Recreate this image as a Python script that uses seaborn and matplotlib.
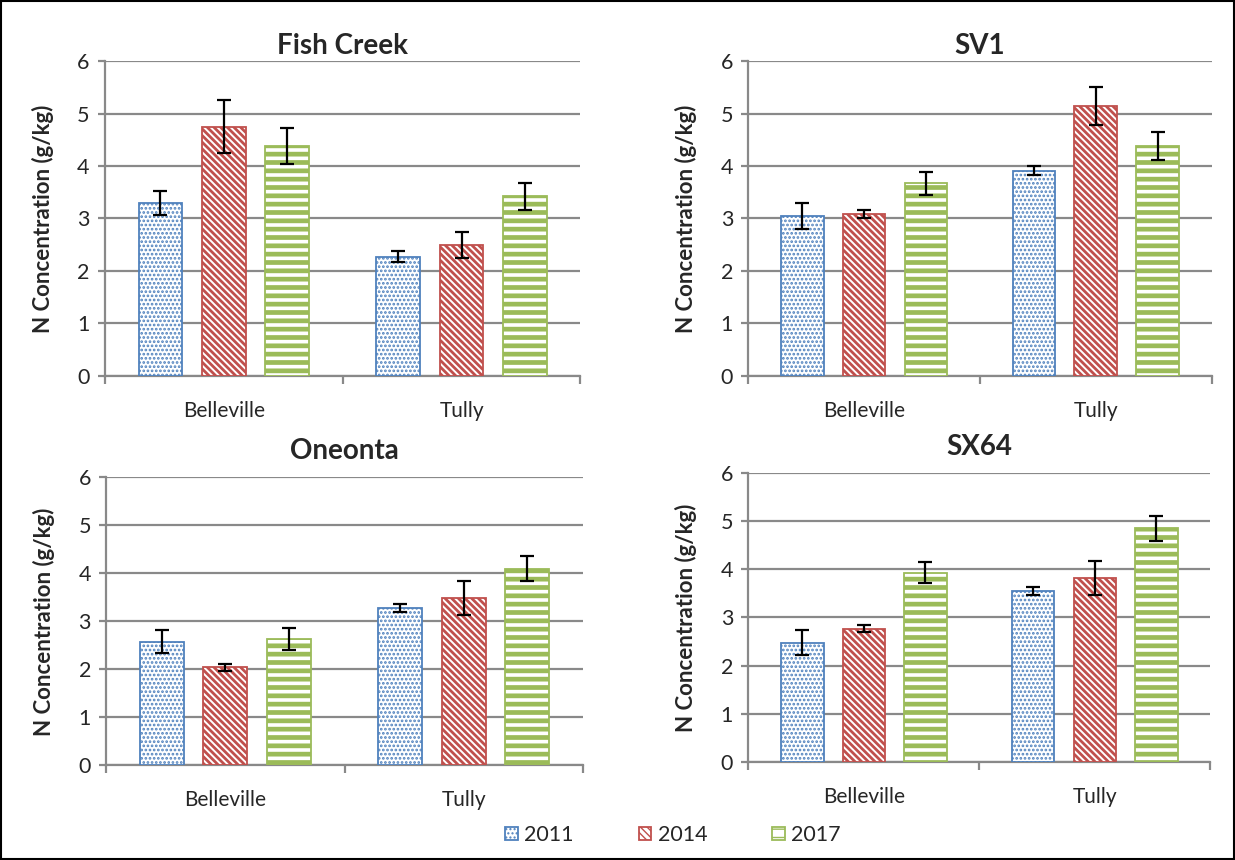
import matplotlib
matplotlib.use("Agg")
import matplotlib.pyplot as plt
from matplotlib.patches import Patch, Rectangle
import numpy as np
import pandas as pd
import seaborn as sns

# Sites, sampling years and panel titles
sites = ["Belleville", "Tully"]
years = ["2011", "2014", "2017"]
panel_titles = ["Fish Creek", "SV1", "Oneonta", "SX64"]

# Mean N concentration (g/kg): Belleville 2011/2014/2017, then Tully 2011/2014/2017
fish_creek_n = [3.30, 4.75, 4.38, 2.27, 2.49, 3.42]
sv1_n = [3.05, 3.08, 3.67, 3.91, 5.14, 4.38]
oneonta_n = [2.58, 2.04, 2.63, 3.28, 3.49, 4.10]
sx64_n = [2.48, 2.77, 3.93, 3.55, 3.82, 4.85]

# Standard errors in the same order
fish_creek_err = [0.23, 0.50, 0.35, 0.10, 0.25, 0.25]
sv1_err = [0.25, 0.08, 0.22, 0.09, 0.36, 0.27]
oneonta_err = [0.24, 0.07, 0.23, 0.09, 0.36, 0.27]
sx64_err = [0.25, 0.075, 0.22, 0.08, 0.36, 0.265]

y_ticks = [0, 1, 2, 3, 4, 5, 6]

means = [fish_creek_n, sv1_n, oneonta_n, sx64_n]
errors = [fish_creek_err, sv1_err, oneonta_err, sx64_err]

sns.set_theme(style="white")
plt.rcParams["font.family"] = ["Lato", "DejaVu Sans"]

year_colors = {"2011": "#4F81BD", "2014": "#C0504D", "2017": "#9BBB59"}
year_hatch = {"2011": "....", "2014": "\\\\\\\\\\", "2017": "--"}
year_hatch_lw = {"2011": 1.3, "2014": 2.0, "2017": 3.4}
grid_gray = "#898989"

fig = plt.figure(figsize=(12.35, 8.6), dpi=100)

# Axes boxes in figure fractions: left, bottom, width, height
boxes = [
    (0.085, 0.563, 0.385, 0.366),
    (0.606, 0.563, 0.375, 0.366),
    (0.086, 0.110, 0.386, 0.335),
    (0.606, 0.114, 0.374, 0.336),
]
title_pads = [5, 5, 13, 13]


def style_bars(container, year):
    col = year_colors[year]
    for bar in container:
        bar.set_facecolor("white")
        bar.set_edgecolor(col)
        bar.set_linewidth(1.3)
        bar.set_hatch(year_hatch[year])
        if hasattr(bar, "set_hatch_linewidth"):
            bar.set_hatch_linewidth(year_hatch_lw[year])


for i in range(4):
    ax = fig.add_axes(boxes[i])
    df = pd.DataFrame({
        "site": np.repeat(sites, len(years)),
        "year": years * len(sites),
        "n": means[i],
        "err": errors[i],
    })
    sns.barplot(data=df, x="site", y="n", hue="year", order=sites,
                hue_order=years, errorbar=None, width=0.8, gap=0.31,
                legend=False, ax=ax, zorder=3)

    for year, container in zip(years, ax.containers):
        style_bars(container, year)
        sub = df[df["year"] == year].set_index("site").loc[sites]
        xs = [b.get_x() + b.get_width() / 2 for b in container]
        ax.errorbar(xs, sub["n"].values, yerr=sub["err"].values, fmt="none",
                    ecolor="black", elinewidth=1.6, capsize=5, capthick=1.6,
                    zorder=5)

    ax.set_ylim(0, 6)
    ax.set_xlim(-0.5, 1.5)
    ax.set_yticks(y_ticks)
    ax.set_xticks([0, 1])
    ax.set_xticks([-0.5, 0.5, 1.5], minor=True)
    ax.set_xticklabels(sites)
    ax.yaxis.grid(True, color=grid_gray, linewidth=1.6, zorder=0)
    ax.set_axisbelow(True)
    for side in ["top", "right"]:
        ax.spines[side].set_visible(False)
    for side in ["left", "bottom"]:
        ax.spines[side].set_color(grid_gray)
        ax.spines[side].set_linewidth(1.6)
    ax.tick_params(axis="y", which="major", left=True, length=5, width=1.6,
                   color=grid_gray, labelsize=15.5, pad=6)
    ax.tick_params(axis="x", which="major", length=0, labelsize=15, pad=18)
    ax.tick_params(axis="x", which="minor", bottom=True, length=6, width=1.6,
                   color=grid_gray)
    ax.set_xlabel("")
    ax.set_ylabel("N Concentration (g/kg)", fontsize=16, fontweight="bold",
                  labelpad=17)
    ax.set_title(panel_titles[i], fontsize=20, fontweight="bold",
                 pad=title_pads[i])

# Shared legend below the panels
handles = []
for year in years:
    h = Patch(facecolor="white", edgecolor=year_colors[year],
              hatch=year_hatch[year], linewidth=1.3, label=year)
    if hasattr(h, "set_hatch_linewidth"):
        h.set_hatch_linewidth(year_hatch_lw[year])
    handles.append(h)
fig.legend(handles=handles, loc="center", bbox_to_anchor=(0.545, 0.029),
           ncol=3, frameon=False, fontsize=15.5, handlelength=0.6,
           handleheight=0.6, handletextpad=0.3, columnspacing=3.0)

# Thin frame around the whole figure
fig.patches.append(Rectangle((0.001, 0.001), 0.998, 0.998,
                             transform=fig.transFigure, fill=False,
                             edgecolor="black", linewidth=1.5))

fig.savefig("out.png", dpi=100)
